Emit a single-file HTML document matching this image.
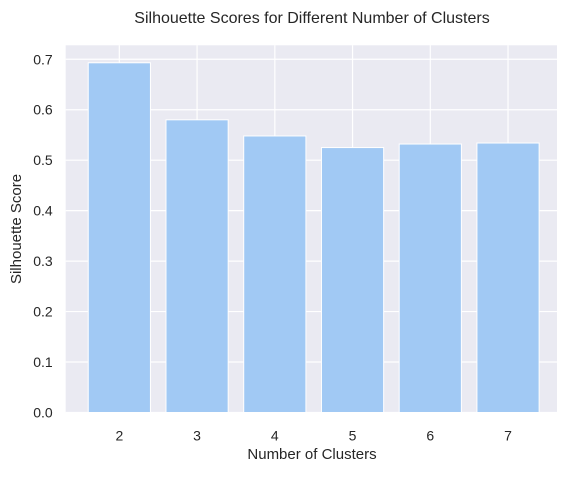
<!DOCTYPE html>
<html><head><meta charset="utf-8"><style>
body{margin:0;background:#fff;font-family:"Liberation Sans",sans-serif}
</style></head><body>
<svg id="chart" width="571" height="472" viewBox="0 0 571 472">
<rect x="65.7" y="45.3" width="491.3" height="367.2" fill="#eaeaf2"/>
<g id="grid"></g><g id="bars"></g><g id="ticks"></g>
<text x="312" y="23" text-anchor="middle" font-size="16" fill="#262626">Silhouette Scores for Different Number of Clusters</text>
<text x="312" y="459" text-anchor="middle" font-size="15" fill="#262626">Number of Clusters</text>
<text transform="translate(21,229) rotate(-90)" text-anchor="middle" font-size="15" fill="#262626">Silhouette Score</text>
</svg>
<script>
const categories=["2","3","4","5","6","7"];
const scores=[0.693,0.580,0.548,0.525,0.532,0.534];
const yTicks=[0,0.1,0.2,0.3,0.4,0.5,0.6,0.7];
const yTickLabels=["0.0","0.1","0.2","0.3","0.4","0.5","0.6","0.7"];
const NS="http://www.w3.org/2000/svg";
const L=65.7,R=557,B=412.5,T=45.3;
const xmin=-0.69,xmax=categories.length-1+0.63;
const ymax=Math.max(...scores)*1.05;
const x=i=>L+(i-xmin)/(xmax-xmin)*(R-L);
const y=v=>B-v/ymax*(B-T);
function mk(tag,attrs,parent){const e=document.createElementNS(NS,tag);for(const k in attrs)e.setAttribute(k,attrs[k]);document.getElementById(parent).appendChild(e);return e;}
yTicks.forEach((v,i)=>{
  const g=mk("line",{x1:L,x2:R,y1:y(v),y2:y(v),stroke:"#fff","stroke-width":1.2},"grid");
  
  
  const t=mk("text",{x:L-13,y:y(v)+5,"text-anchor":"end","font-size":14,fill:"#262626"},"ticks");
  t.textContent=yTickLabels[i];
  
  
});
categories.forEach((c,i)=>{
  const g=mk("line",{x1:x(i),x2:x(i),y1:T,y2:B,stroke:"#fff","stroke-width":1.2},"grid");
  
  
  const bw=0.8*(x(1)-x(0));
  const r=mk("rect",{x:x(i)-bw/2,y:y(scores[i]),width:bw,height:B-y(scores[i]),fill:"#a1c9f4",stroke:"#fff","stroke-width":1},"bars");
  
  
  const t=mk("text",{x:x(i),y:B+28,"text-anchor":"middle","font-size":14,fill:"#262626"},"ticks");
  t.textContent=c;
  
  
});
</script>
</body></html>
